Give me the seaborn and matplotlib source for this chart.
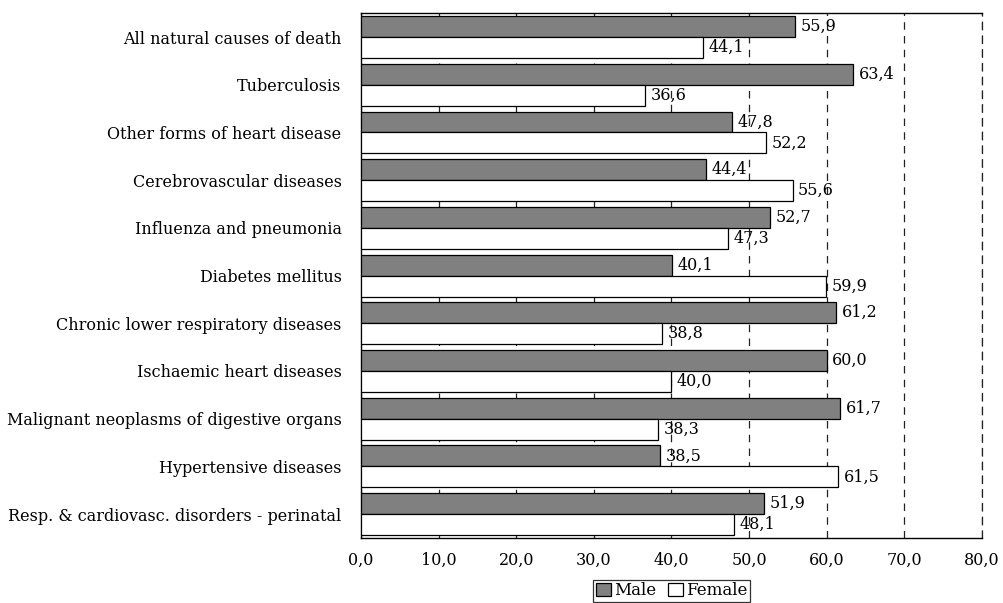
import pandas as pd
import matplotlib
matplotlib.use('Agg')
import matplotlib.pyplot as plt
import seaborn as sns
from matplotlib.ticker import FuncFormatter

# data (percent share by sex)
causes = ['All natural causes of death', 'Tuberculosis', 'Other forms of heart disease',
          'Cerebrovascular diseases', 'Influenza and pneumonia', 'Diabetes mellitus',
          'Chronic lower respiratory diseases', 'Ischaemic heart diseases',
          'Malignant neoplasms of digestive organs', 'Hypertensive diseases',
          'Resp. & cardiovasc. disorders - perinatal']
male = [55.9, 63.4, 47.8, 44.4, 52.7, 40.1, 61.2, 60.0, 61.7, 38.5, 51.9]
female = [44.1, 36.6, 52.2, 55.6, 47.3, 59.9, 38.8, 40.0, 38.3, 61.5, 48.1]
x_ticks = [0, 10, 20, 30, 40, 50, 60, 70, 80]

df = pd.DataFrame({'cause': causes * 2,
                   'share': male + female,
                   'sex': ['Male'] * len(causes) + ['Female'] * len(causes)})

sns.set_style('white')
plt.rcParams['font.family'] = ['DejaVu Serif']
plt.rcParams['font.size'] = 11.5
plt.rcParams['text.color'] = 'black'
plt.rcParams['xtick.color'] = 'black'
plt.rcParams['ytick.color'] = 'black'

fig = plt.figure(figsize=(10.04, 6.03), dpi=100)
ax = fig.add_axes([0.3596, 0.108, 0.978 - 0.3596, 0.978 - 0.108])

sns.barplot(data=df, y='cause', x='share', hue='sex', orient='h',
            palette={'Male': '#808080', 'Female': 'white'},
            edgecolor='black', linewidth=0.9, width=0.88, gap=0,
            errorbar=None, ax=ax, zorder=3)

# value labels, comma decimal
for cont in ax.containers:
    ax.bar_label(cont, labels=[f'{v:.1f}'.replace('.', ',') for v in cont.datavalues],
                 padding=4, fontsize=11.5, color='black', zorder=5)

ax.set_xlim(0, 80)
ax.set_xticks(x_ticks)
ax.xaxis.set_major_formatter(FuncFormatter(lambda v, p: f'{v:.1f}'.replace('.', ',')))
ax.grid(axis='x', color='#222222', linestyle=(0, (6, 5)), linewidth=0.9, zorder=0)
ax.set_axisbelow(True)
ax.tick_params(axis='both', length=0, labelsize=11.5)
ax.tick_params(axis='x', pad=10)
ax.tick_params(axis='y', pad=14)
ax.set_xlabel('')
ax.set_ylabel('')

for s in ['left', 'bottom', 'top']:
    ax.spines[s].set_color('black')
    ax.spines[s].set_linewidth(1.0)
ax.spines['right'].set_color('#222222')
ax.spines['right'].set_linewidth(0.9)
ax.spines['right'].set_linestyle((0, (6, 5)))

# legend box under the plot, centred on the axes
handles, labels = ax.get_legend_handles_labels()
ax.get_legend().remove()
leg = fig.legend(handles, labels, loc='lower center', bbox_to_anchor=(0.6688, 0.002), ncol=2,
                 frameon=True, fancybox=False, edgecolor='black', handlelength=0.9,
                 handleheight=0.9, handletextpad=0.2, columnspacing=0.7, borderpad=0.15,
                 borderaxespad=0, fontsize=12)
leg.get_frame().set_linewidth(0.9)

fig.savefig('out.png', dpi=100)
